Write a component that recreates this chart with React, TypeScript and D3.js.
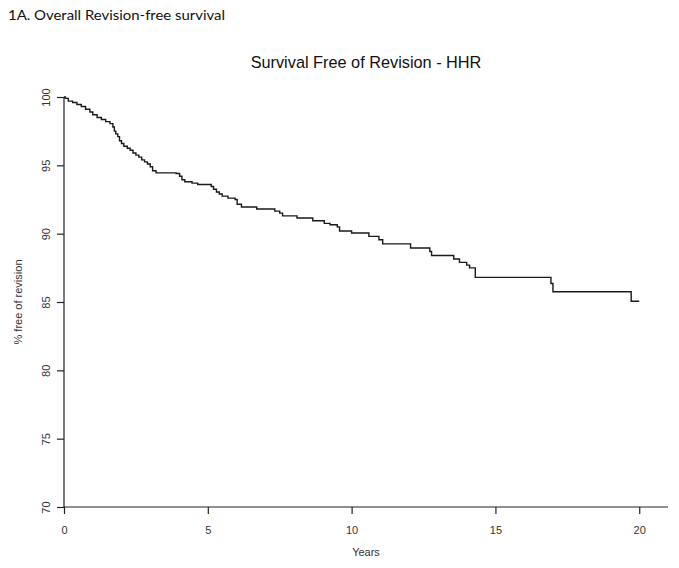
import React, { useEffect, useRef } from 'react';
import * as d3 from 'd3';

// Kaplan-Meier steps: [years, % free of revision]
const eventYears = [
  0, 0.05, 0.15, 0.3, 0.45, 0.6, 0.75, 0.9, 1.0, 1.15, 1.3, 1.45, 1.6, 1.7, 1.75, 1.8, 1.87,
  1.93, 2.0, 2.08, 2.2, 2.3, 2.4, 2.5, 2.6, 2.7, 2.8, 2.9, 3.0, 3.08, 3.2, 3.9, 4.02, 4.1,
  4.2, 4.45, 4.65, 5.12, 5.2, 5.3, 5.4, 5.5, 5.7, 5.95, 6.02, 6.17, 6.7, 7.33, 7.5, 7.6,
  8.1, 8.65, 9.05, 9.25, 9.5, 9.58, 10.0, 10.6, 10.95, 11.08, 12.05, 12.72, 12.78, 13.55,
  13.75, 14.0, 14.1, 14.3, 16.93, 17.0, 19.72,
];
const survival = [
  100, 99.9, 99.7, 99.6, 99.45, 99.3, 99.1, 98.9, 98.7, 98.5, 98.35, 98.2, 98.05, 97.8, 97.5,
  97.3, 97.1, 96.8, 96.6, 96.4, 96.25, 96.1, 95.9, 95.75, 95.6, 95.4, 95.25, 95.1, 94.9, 94.6,
  94.45, 94.4, 94.2, 93.95, 93.8, 93.7, 93.6, 93.45, 93.25, 93.05, 92.9, 92.75, 92.6, 92.5,
  92.15, 91.95, 91.8, 91.65, 91.5, 91.3, 91.15, 90.95, 90.75, 90.65, 90.5, 90.2, 90.05, 89.8,
  89.55, 89.25, 88.95, 88.7, 88.4, 88.15, 87.9, 87.7, 87.5, 86.8, 86.35, 85.75, 85.05,
];
const lastFollowUp = 20.0;

const xTicks = [0, 5, 10, 15, 20];
const yTicks = [70, 75, 80, 85, 90, 95, 100];

const W = 679;
const H = 568;
const font = '"Liberation Sans", Arial, Helvetica, sans-serif';

const App = () => {
  const ref = useRef<SVGSVGElement>(null);

  useEffect(() => {
    const svg = d3.select(ref.current);
    svg.selectAll('*').remove();

    const x = d3.scaleLinear().domain([0, 21]).range([64, 668]);
    const y = d3.scaleLinear().domain([70, 100]).range([507, 97]);

    // panel label
    svg
      .append('text')
      .attr('x', 8)
      .attr('y', 20)
      .attr('textLength', 217)
      .attr('lengthAdjust', 'spacingAndGlyphs')
      .style('font-family', 'Lato, "Open Sans", sans-serif')
      .style('font-size', '14px')
      .attr('fill', '#111')
      .text('1A. Overall Revision-free survival');

    // title
    svg
      .append('text')
      .attr('x', 366)
      .attr('y', 68)
      .attr('text-anchor', 'middle')
      .style('font-family', font)
      .style('font-size', '16.3px')
      .attr('fill', '#111')
      .text('Survival Free of Revision - HHR');

    // L-shaped box
    svg
      .append('path')
      .attr('d', `M${x(0)},${y(100)}V${y(70)}H${x(21)}`)
      .attr('fill', 'none')
      .attr('stroke', '#222')
      .attr('stroke-width', 1.2);

    const gx = svg
      .append('g')
      .attr('transform', `translate(0, ${y(70)})`)
      .call(d3.axisBottom(x).tickValues(xTicks).tickSize(7).tickPadding(12).tickFormat(d3.format('d')));
    gx.select('.domain').remove();
    gx.selectAll('line').attr('stroke', '#222').attr('stroke-width', 1.2);
    gx.selectAll('text')
      .style('font-family', font)
      .style('font-size', '11px')
      .attr('fill', '#333');

    const gy = svg
      .append('g')
      .attr('transform', `translate(${x(0)}, 0)`)
      .call(d3.axisLeft(y).tickValues(yTicks).tickSize(7).tickFormat(d3.format('d')));
    gy.select('.domain').remove();
    gy.selectAll('line').attr('stroke', '#222').attr('stroke-width', 1.2);
    gy.selectAll('text')
      .attr('x', null)
      .attr('dy', null)
      .attr('text-anchor', 'middle')
      .attr('transform', 'translate(-14, 0) rotate(-90)')
      .style('font-family', font)
      .style('font-size', '11px')
      .attr('fill', '#333');

    // axis titles
    svg
      .append('text')
      .attr('x', 366)
      .attr('y', 556)
      .attr('text-anchor', 'middle')
      .style('font-family', font)
      .style('font-size', '11px')
      .attr('fill', '#333')
      .text('Years');

    svg
      .append('text')
      .attr('text-anchor', 'middle')
      .attr('transform', `translate(22, ${y(85)}) rotate(-90)`)
      .style('font-family', font)
      .style('font-size', '11px')
      .attr('fill', '#333')
      .text('% free of revision');

    // survival curve
    const pts: [number, number][] = eventYears.map((t, i) => [t, survival[i]]);
    pts.push([lastFollowUp, survival[survival.length - 1]]);
    const line = d3
      .line<[number, number]>()
      .x((d) => x(d[0]))
      .y((d) => y(d[1]))
      .curve(d3.curveStepAfter);

    svg
      .append('path')
      .datum(pts)
      .attr('d', line)
      .attr('fill', 'none')
      .attr('stroke', '#1a1a1a')
      .attr('stroke-width', 1.4);
  }, []);

  return (
    <svg
      ref={ref}
      width={W}
      height={H}
      style={{ position: 'absolute', left: 0, top: 0, background: '#fff' }}
    />
  );
};

export default App;
